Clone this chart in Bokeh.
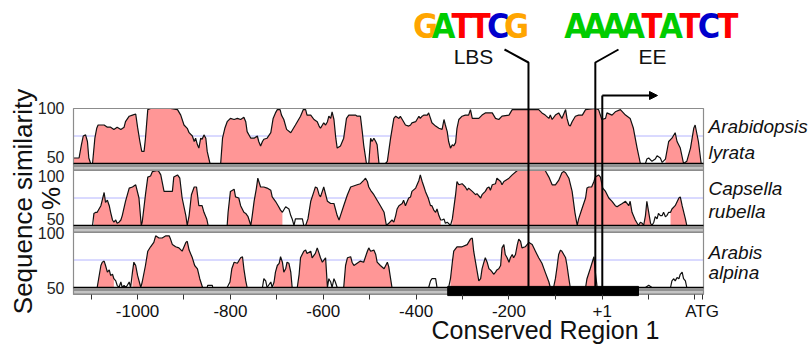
import numpy as np
from bokeh.plotting import figure
from bokeh.models import Range1d, LinearAxis, FixedTicker, Label, Arrow, NormalHead
from bokeh.embed import file_html
from bokeh.resources import INLINE

# ---------------- data (position in bp relative to TSS, % similarity) ----------------
lyrata_profile = [
    (-1137,55),(-1126,55),(-1121,67),(-1117,75),(-1112,76),(-1108,70),(-1105,55),(-1101,50),(-1097,50),
    (-1092,73),(-1088,82),(-1085,85),(-1079,85),(-1072,85),(-1065,83),(-1058,83),(-1051,81),(-1044,83),
    (-1036,81),(-1029,83),(-1026,88),(-1018,93),(-1011,94),(-1004,95),(-1000,83),(-995,70),(-991,61),
    (-986,61),(-983,73),(-978,99),(-972,100),(-957,100),(-929,100),(-914,99),(-907,94),(-900,85),(-893,82),
    (-889,78),(-882,75),(-878,70),(-875,73),(-871,67),(-868,64),(-864,73),(-861,72),(-857,76),(-853,73),
    (-850,61),(-844,50),(-821,50),(-817,73),(-812,82),(-807,88),(-800,91),(-792,90),(-785,91),(-778,90),
    (-771,92),(-767,88),(-764,79),(-756,73),(-749,73),(-742,75),(-739,70),(-735,66),(-731,70),(-728,72),
    (-721,73),(-713,78),(-708,91),(-703,96),(-699,99),(-693,99),(-690,94),(-685,90),(-679,81),(-670,78),
    (-660,85),(-649,93),(-643,99),(-638,99),(-635,94),(-627,94),(-620,90),(-613,88),(-609,84),(-606,82),
    (-599,87),(-595,85),(-591,88),(-588,93),(-584,91),(-581,97),(-577,90),(-573,73),(-570,64),(-563,66),
    (-556,73),(-550,91),(-545,94),(-530,94),(-527,93),(-520,93),(-516,79),(-513,67),(-507,50),(-502,50),
    (-498,73),(-495,70),(-491,73),(-487,70),(-484,67),(-480,50),(-466,50),(-462,52),(-455,73),(-448,91),
    (-444,93),(-437,91),(-434,93),(-427,88),(-423,85),(-416,84),(-412,85),(-409,87),(-401,88),(-394,93),
    (-391,91),(-387,93),(-383,94),(-376,94),(-373,96),(-369,91),(-366,87),(-358,84),(-351,82),(-344,81),
    (-340,90),(-337,85),(-333,79),(-330,70),(-326,64),(-322,67),(-319,66),(-315,69),(-312,82),(-308,90),
    (-301,93),(-294,94),(-287,94),(-283,99),(-279,91),(-272,91),(-265,91),(-258,94),(-251,96),(-236,96),
    (-229,91),(-222,90),(-215,93),(-200,94),(-193,99),(-136,99),(-129,96),(-122,94),(-114,91),(-111,94),
    (-107,90),(-100,94),(-93,96),(-86,91),(-78,99),(-75,91),(-71,85),(-68,84),(-64,88),(-57,93),(-50,94),
    (-42,94),(-35,99),(-14,100),(-7,99),(0,90),(8,91),(11,96),(22,94),(29,97),(40,99),(51,94),(61,91),
    (68,82),(76,64),(83,50),(94,50),(97,54),(101,55),(108,52),(115,54),(119,57),(126,55),(130,51),(137,54),
    (144,70),(151,73),(158,78),(162,70),(169,64),(176,50),(183,52),(191,64),(198,82),(201,85),(208,70),(214,50),
]
lyrata_conserved = [(-1137, 83), (137, 214)]

capsella_profile = [
    (-1137,50),(-1097,50),(-1094,61),(-1090,62),(-1087,62),(-1079,68),(-1072,80),(-1069,71),(-1065,73),
    (-1061,68),(-1058,62),(-1054,55),(-1051,53),(-1047,55),(-1044,52),(-1040,53),(-1036,55),(-1033,59),
    (-1026,72),(-1018,84),(-1011,85),(-1004,87),(-997,75),(-992,50),(-990,53),(-983,78),(-978,94),(-972,95),
    (-968,99),(-957,100),(-954,99),(-950,96),(-943,81),(-925,81),(-922,94),(-914,96),(-909,93),(-904,75),
    (-896,59),(-893,50),(-889,59),(-884,78),(-878,85),(-873,85),(-868,68),(-861,68),(-857,62),(-851,56),
    (-848,50),(-807,50),(-805,62),(-800,81),(-792,83),(-789,76),(-782,75),(-778,68),(-771,62),(-767,61),
    (-762,58),(-756,50),(-753,59),(-749,72),(-744,84),(-741,93),(-735,85),(-728,85),(-721,84),(-713,82),
    (-710,76),(-703,72),(-696,67),(-692,64),(-688,62),(-681,67),(-674,65),(-670,59),(-667,56),(-663,50),
    (-660,56),(-645,56),(-642,50),(-638,50),(-633,56),(-627,72),(-620,81),(-617,85),(-613,84),(-609,78),
    (-606,76),(-599,85),(-591,72),(-584,70),(-577,70),(-570,59),(-566,55),(-563,59),(-556,68),(-548,78),
    (-541,85),(-527,87),(-520,88),(-513,91),(-509,93),(-505,90),(-502,85),(-498,82),(-491,78),(-484,73),
    (-477,68),(-469,62),(-464,50),(-459,52),(-452,55),(-448,53),(-444,59),(-441,65),(-437,68),(-430,70),
    (-427,73),(-423,68),(-419,72),(-416,75),(-412,76),(-409,81),(-401,84),(-394,91),(-391,96),(-387,90),
    (-383,85),(-380,81),(-374,75),(-369,68),(-366,68),(-362,64),(-358,62),(-355,65),(-351,59),(-347,55),
    (-344,55),(-340,56),(-337,52),(-333,53),(-326,50),(-322,56),(-315,78),(-312,90),(-308,87),(-301,88),
    (-294,85),(-290,82),(-287,84),(-279,81),(-272,78),(-269,79),(-261,75),(-258,78),(-251,81),(-247,84),
    (-243,85),(-240,82),(-236,87),(-229,88),(-226,93),(-218,90),(-215,87),(-211,90),(-200,93),(-193,96),
    (-182,100),(-122,100),(-114,94),(-107,87),(-100,87),(-93,91),(-86,98),(-82,99),(-78,98),(-71,93),
    (-64,81),(-58,62),(-53,50),(-50,56),(-43,65),(-35,75),(-32,84),(-28,85),(-22,85),(-17,90),(-14,94),
    (-7,96),(-3,94),(2,84),(8,81),(15,75),(22,72),(29,68),(33,67),(36,68),(44,70),(51,72),(58,68),(61,72),
    (65,62),(72,55),(79,50),(83,53),(87,52),(90,50),(94,59),(97,72),(101,62),(105,52),(108,50),(112,53),
    (115,58),(119,56),(122,61),(126,59),(130,59),(133,62),(137,58),(140,59),(144,62),(148,62),(151,65),
    (158,68),(166,75),(169,76),(173,68),(180,56),(183,50),(214,50),
]
capsella_conserved = [(-1094, -848), (-807, -688), (-638, -347), (-322, 79), (83, 108), (148, 183)]

alpina_profile = [
    (-1137,50),(-1087,50),(-1079,70),(-1076,73),(-1072,74),(-1069,70),(-1065,64),(-1061,66),(-1058,61),
    (-1054,62),(-1051,58),(-1047,56),(-1044,52),(-1040,50),(-1036,55),(-1033,50),(-1029,52),(-1026,50),
    (-1022,52),(-1018,55),(-1015,50),(-1011,64),(-1008,73),(-1004,70),(-1000,61),(-993,50),(-990,55),
    (-983,70),(-978,83),(-972,87),(-965,91),(-961,97),(-954,95),(-947,95),(-939,97),(-932,97),(-929,94),
    (-925,89),(-918,87),(-911,86),(-904,83),(-896,91),(-893,92),(-889,84),(-882,77),(-877,70),(-871,67),
    (-866,58),(-860,50),(-850,50),(-849,52),(-839,52),(-838,50),(-807,50),(-801,55),(-797,67),(-792,73),
    (-785,72),(-778,77),(-774,78),(-771,67),(-767,56),(-764,50),(-731,50),(-728,58),(-724,56),(-721,50),
    (-713,55),(-710,50),(-706,55),(-703,64),(-699,70),(-695,72),(-692,78),(-688,73),(-685,64),(-681,67),
    (-678,73),(-674,72),(-670,64),(-667,50),(-656,50),(-652,62),(-649,77),(-642,83),(-638,84),(-635,81),
    (-627,83),(-624,77),(-617,81),(-613,86),(-609,81),(-606,77),(-602,73),(-595,77),(-591,50),(-588,58),
    (-584,55),(-581,50),(-577,58),(-574,55),(-570,50),(-556,50),(-552,70),(-548,77),(-541,78),(-538,73),
    (-534,70),(-527,72),(-520,74),(-513,73),(-505,83),(-502,86),(-498,83),(-491,84),(-487,80),(-484,73),
    (-477,70),(-469,67),(-462,73),(-459,69),(-455,58),(-452,50),(-373,50),(-369,56),(-366,58),(-358,58),
    (-355,50),(-330,50),(-326,58),(-322,73),(-319,83),(-312,87),(-301,87),(-290,89),(-283,94),(-279,95),
    (-276,83),(-272,73),(-265,56),(-261,58),(-258,67),(-254,73),(-251,77),(-247,73),(-243,67),(-240,66),
    (-236,64),(-233,62),(-229,64),(-226,66),(-222,67),(-218,70),(-215,86),(-211,89),(-208,80),(-204,77),
    (-200,73),(-197,77),(-193,80),(-190,77),(-186,80),(-182,89),(-179,94),(-175,92),(-172,86),(-165,87),
    (-157,91),(-150,89),(-143,83),(-136,77),(-129,72),(-122,64),(-114,55),(-111,50),(-104,50),(-100,58),
    (-96,70),(-93,80),(-89,84),(-86,83),(-78,77),(-75,70),(-71,58),(-68,50),(-35,50),(-32,58),(-25,67),
    (-17,78),(-14,64),(-10,50),(94,50),(101,52),(108,50),(148,50),(151,56),(155,58),(158,56),(162,59),
    (166,58),(169,62),(173,64),(176,58),(180,56),(183,50),(214,50),
]
alpina_conserved = [(-1087, -1051), (-1011, -993), (-990, -860), (-801, -764), (-706, -667),
                    (-656, -591), (-556, -452), (-326, -111), (-104, -68), (-35, -10)]

species = [("Arabidopsis", "lyrata"), ("Capsella", "rubella"), ("Arabis", "alpina")]
profiles = [lyrata_profile, capsella_profile, alpina_profile]
conserved = [lyrata_conserved, capsella_conserved, alpina_conserved]

x_tick_values = [-1100, -1000, -900, -800, -700, -600, -500, -400, -300, -200, -100, 1, 100, 200, 216]
x_tick_labels = ["", "-1000", "", "-800", "", "-600", "", "-400", "", "-200", "", "+1", "", "", "ATG"]
y_tick_values = [50, 100]

lbs_site = -158
ee_site = -14
tss_site = 1
conserved_region_1 = (-332, 79)
lbs_motif = "GATTCG"
ee_motif = "AAAATATCT"
base_colors = {"A": "#00CC00", "C": "#0000CC", "G": "#FFA500", "T": "#FF0000"}

# ---------------- layout (canvas pixels, top-left origin) ----------------
FONT = "Liberation Sans"
LOGO_FONT = "'Liberation Sans Narrow', 'DejaVu Sans Condensed', 'Noto Sans Condensed', 'Roboto Condensed', 'Liberation Sans', sans-serif"
W, H = 809, 347
PLOT_L, PLOT_R = 73, 703                    # left / right edge of the tracks
X0, X1 = -1138, 219                         # bp at the track edges
BPP = (X1 - X0) / (PLOT_R - PLOT_L)         # bp per pixel
TRACK_TOP0, TRACK_STEP, TRACK_PX, BAND_PX = 108, 62, 55, 7
PPU = TRACK_PX / 50.0                       # px per % unit
PINK = "#FF9696"


def bp_at(px):
    return X0 + (px - PLOT_L) * BPP


def up(py):                                 # canvas row -> main y units (px above bottom)
    return H - py


p = figure(width=W, height=H,
           x_range=Range1d(X0 - PLOT_L * BPP, X1 + (W - PLOT_R) * BPP),
           y_range=Range1d(0, H), x_axis_location="below", y_axis_location=None,
           min_border=0, output_backend="svg", toolbar_location=None)
p.outline_line_color = None
p.grid.visible = False
p.background_fill_color = "white"
p.border_fill_color = "white"

band_bottom = 50 - BAND_PX / PPU
label_y = [(84, 60), (84, 63), (82, 64)]
tick_text = [{100: "100", 50: "50\n"}, {100: "\n100", 50: "50\n"}, {100: "100", 50: "50"}]
for k in range(3):
    top_px = TRACK_TOP0 + k * TRACK_STEP
    base_px = top_px + TRACK_PX
    name = f"p{k+1}"
    p.extra_y_ranges[name] = Range1d(50 - (H - base_px) / PPU, 100 + top_px / PPU)

    # 75 % guide line (behind fill)
    p.segment(x0=X0, x1=X1, y0=75, y1=75, line_color="#B4B4FF", line_width=1, y_range_name=name)

    prof = np.array(profiles[k], dtype=float)
    xs, ys = prof[:, 0], prof[:, 1]
    for a, b in conserved[k]:
        m = (xs >= a) & (xs <= b)
        p.varea(x=xs[m], y1=50, y2=ys[m], fill_color=PINK, y_range_name=name)
    p.line(xs, ys, line_color="#111111", line_width=1.2, y_range_name=name)

    # gray track band below baseline
    p.quad(left=X0, right=X1, bottom=band_bottom, top=50, fill_color="#C4C4C4",
           line_color=None, y_range_name=name)
    p.segment(x0=X0, x1=X1, y0=50 - 2.5 / PPU, y1=50 - 2.5 / PPU, line_color="#808080",
              line_width=1.5, y_range_name=name)
    p.segment(x0=X0, x1=X1, y0=band_bottom + 0.5 / PPU, y1=band_bottom + 0.5 / PPU,
              line_color="#808080", line_width=1, y_range_name=name)
    # track border and baseline
    p.quad(left=X0, right=X1, bottom=band_bottom, top=100, fill_color=None,
           line_color="#8C8C8C", line_width=1.2, y_range_name=name)
    p.segment(x0=X0, x1=X1, y0=50, y1=50, line_color="black", line_width=1.5, y_range_name=name)

    ax = LinearAxis(y_range_name=name, ticker=FixedTicker(ticks=y_tick_values),
                    fixed_location=X0, axis_line_color=None, major_tick_line_color=None,
                    minor_tick_line_color=None, major_label_text_font=FONT,
                    major_label_text_font_size="16px", major_label_text_color="#222222",
                    major_label_text_line_height=0.7,
                    major_label_standoff=3, major_label_overrides=tick_text[k])
    p.add_layout(ax, "left")

    first, second = species[k]
    for txt, yy in zip((first, second), label_y[k]):
        p.add_layout(Label(x=bp_at(PLOT_R + 5), y=yy, text=txt, y_range_name=name,
                           text_font=FONT, text_font_style="italic", text_font_size="19px",
                           text_align="left", text_baseline="middle", text_color="#111111"))

# conserved region bar on last track
p.quad(left=conserved_region_1[0], right=conserved_region_1[1], bottom=band_bottom - 1,
       top=51, fill_color="black", line_color="black", y_range_name="p3")

# ---- binding-site / TSS annotations ----
y_last_base = up(TRACK_TOP0 + 2 * TRACK_STEP + TRACK_PX)
p.line([bp_at(504), lbs_site, lbs_site], [up(49), up(62), y_last_base], line_color="black", line_width=2)
p.line([bp_at(618), ee_site, ee_site], [up(49), up(62), y_last_base], line_color="black", line_width=2)
p.line([tss_site, tss_site], [y_last_base, up(95)], line_color="black", line_width=2)
p.add_layout(Arrow(end=NormalHead(size=8, fill_color="black", line_color="black"),
                   x_start=tss_site, y_start=up(95), x_end=bp_at(657), y_end=up(95),
                   line_color="black", line_width=2))

p.add_layout(Label(x=bp_at(473), y=up(55.5), text="LBS", text_font=FONT, text_font_size="21px",
                   text_align="center", text_baseline="middle", text_color="#111111"))
p.add_layout(Label(x=bp_at(652), y=up(55.5), text="EE", text_font=FONT, text_font_size="21px",
                   text_align="center", text_baseline="middle", text_color="#111111"))

for motif, first_px, step_px in ((lbs_motif, 425, 18.2), (ee_motif, 575.5, 19.0)):
    for i, ch in enumerate(motif):
        p.add_layout(Label(x=bp_at(first_px + i * step_px), y=up(25.5), text=ch, text_font=LOGO_FONT,
                           text_font_style="bold", text_font_size="34px", text_align="center",
                           text_baseline="middle", text_color=base_colors[ch]))

# ---- axis titles ----
p.add_layout(Label(x=bp_at(22), y=up(201), text="Sequence similarity", angle=np.pi / 2,
                   text_font=FONT, text_font_size="26px", text_align="center",
                   text_baseline="middle", text_color="#111111"))
p.add_layout(Label(x=bp_at(50), y=up(198), text="%", angle=np.pi / 2, text_font=FONT,
                   text_font_size="26px", text_align="center", text_baseline="middle",
                   text_color="#111111"))
p.add_layout(Label(x=bp_at(545), y=up(329.5), text="Conserved Region 1", text_font=FONT,
                   text_font_size="25px", text_align="center", text_baseline="middle",
                   text_color="#111111"))

# ---- x axis (drawn at the bottom of the last track) ----
xa = p.xaxis[0]
xa.fixed_location = up(TRACK_TOP0 + 2 * TRACK_STEP + TRACK_PX + BAND_PX)
xa.ticker = FixedTicker(ticks=x_tick_values)
xa.major_label_overrides = {v: lab for v, lab in zip(x_tick_values, x_tick_labels)}
xa.axis_line_color = None
xa.major_tick_in = 0
xa.major_tick_out = 5
xa.major_tick_line_color = "#333333"
xa.minor_tick_line_color = None
xa.major_label_standoff = 2
xa.major_label_text_font = FONT
xa.major_label_text_font_size = "17px"
xa.major_label_text_color = "#111111"

open("out.html", "w").write(file_html(p, INLINE))
